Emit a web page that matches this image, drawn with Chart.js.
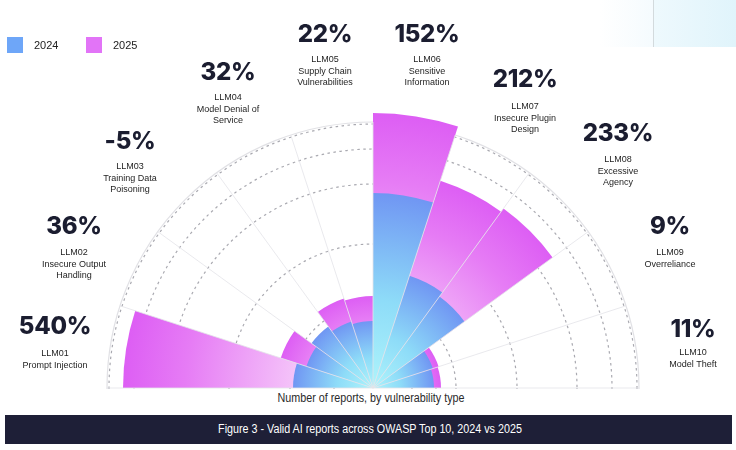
<!DOCTYPE html>
<html>
<head>
<meta charset="utf-8">
<script src="https://cdn.jsdelivr.net/npm/chart.js@4.4.1/dist/chart.umd.min.js"></script>
<style>
  html, body { margin: 0; padding: 0; background: #fff; }
  body { width: 736px; height: 450px; position: relative; overflow: hidden; font-family: "Liberation Sans", Arial, sans-serif; }
  #tint { position: absolute; left: 600px; top: 0; width: 53px; height: 47px; background: linear-gradient(to right, #ffffff, #f5fbfe); }
  #tint2 { position: absolute; left: 653px; top: 0; width: 83px; height: 47px; background: linear-gradient(to right, #eef9fd, #e0f4fb); border-left: 1px solid #d3dadd; }
  #wrap { position: absolute; left: 0; top: 0; width: 736px; height: 389px; overflow: hidden; }
  .leg { position: absolute; top: 37px; width: 16px; height: 16px; }
  .legtxt { position: absolute; top: 38px; font-size: 11px; color: #222; line-height: 14px; }
  .pct { position: absolute; transform: translate(-50%, -50%); font-family: Inter, "Noto Sans", sans-serif; font-weight: 800; font-size: 24px; color: #1b1d30; letter-spacing: -0.3px; white-space: nowrap; }
  .lbl { position: absolute; transform: translateX(-50%); font-size: 9px; line-height: 11.5px; color: #1e1e1e; text-align: center; white-space: nowrap; }
  #axisTitle { position: absolute; left: 371px; top: 398px; transform: translate(-50%, -50%) scaleX(0.86); font-size: 12.5px; color: #2a2a2a; white-space: nowrap; }
  #banner { position: absolute; left: 5px; top: 415px; width: 727px; height: 29px; background: #1e1f37; }
  #banner span { position: absolute; left: 365px; top: 14px; transform: translate(-50%, -50%) scaleX(0.86); color: #fff; font-size: 12.5px; white-space: nowrap; }
</style>
</head>
<body>
<div id="tint"></div>
<div id="tint2"></div>
<div id="wrap"><canvas id="chart" width="736" height="680"></canvas></div>
<div id="labels"></div>
<div id="axisTitle">Number of reports, by vulnerability type</div>
<div id="banner"><span>Figure 3 - Valid AI reports across OWASP Top 10, 2024 vs 2025</span></div>
<script>
(function () {
  'use strict';

  // categories, left (LLM01) to right (LLM10)
  var codes = ['LLM01', 'LLM02', 'LLM03', 'LLM04', 'LLM05', 'LLM06', 'LLM07', 'LLM08', 'LLM09', 'LLM10'];
  var names = [
    ['Prompt Injection'],
    ['Insecure Output', 'Handling'],
    ['Training Data', 'Poisoning'],
    ['Model Denial of', 'Service'],
    ['Supply Chain', 'Vulnerabilities'],
    ['Sensitive', 'Information'],
    ['Insecure Plugin', 'Design'],
    ['Excessive', 'Agency'],
    ['Overreliance'],
    ['Model Theft']
  ];
  var changes = ['540%', '36%', '-5%', '32%', '22%', '152%', '212%', '233%', '9%', '11%'];

  // bar lengths (radial units, outer ring = 266)
  var reports2024 = [80, 70, 76, 70, 67, 195, 118, 113, 63, 61];
  var reports2025 = [250, 97, 72, 94, 92, 275, 218, 222, 69, 68];

  // rings of the radial grid
  var gridRings = [0, 39, 63, 83, 144, 204, 239, 264, 266];
  var outerRing = 266;
  var scaleMax = 290;

  // label placement: [center x, percent y, first label line y]
  var labelPos = [
    [55, 325, 354], [74, 225, 253], [130, 140, 167], [228, 71, 98], [325, 33, 60],
    [427, 33, 60], [525, 78, 107], [618, 132, 160], [670, 225, 253], [693, 328, 353]
  ];

  // legend
  var legendItems = [['2024', '#6ea6f8', 7], ['2025', '#e274f7', 86]];
  var body = document.body;
  legendItems.forEach(function (it) {
    var sq = document.createElement('div');
    sq.className = 'leg'; sq.style.left = it[2] + 'px'; sq.style.background = it[1];
    body.appendChild(sq);
    var t = document.createElement('div');
    t.className = 'legtxt'; t.style.left = (it[2] + 27) + 'px'; t.textContent = it[0];
    body.appendChild(t);
  });

  // category labels around the half circle
  var holder = document.getElementById('labels');
  codes.forEach(function (code, i) {
    var p = labelPos[i];
    var pct = document.createElement('div');
    pct.className = 'pct';
    pct.style.left = p[0] + 'px'; pct.style.top = p[1] + 'px';
    pct.textContent = changes[i];
    holder.appendChild(pct);
    var lbl = document.createElement('div');
    lbl.className = 'lbl';
    lbl.style.left = p[0] + 'px'; lbl.style.top = (p[2] - 6) + 'px';
    lbl.innerHTML = [code].concat(names[i]).join('<br>');
    holder.appendChild(lbl);
  });

  // per-arc radial gradient, centre -> end of the bar
  function arcGradient(stops, fallback) {
    return function (ctx) {
      var chart = ctx.chart;
      var s = chart.scales.r;
      if (!chart.chartArea || !s || s.xCenter === undefined) return fallback;
      var r = Math.max(s.getDistanceFromCenterForValue(ctx.raw), 1);
      var g = chart.ctx.createRadialGradient(s.xCenter, s.yCenter, 0, s.xCenter, s.yCenter, r);
      stops.forEach(function (st) { g.addColorStop(st[0], st[1]); });
      return g;
    };
  }

  var sectorAngle = 180 / codes.length;

  // spokes at every sector border, drawn above the bars
  var spokes = {
    id: 'spokes',
    afterDatasetsDraw: function (chart) {
      var s = chart.scales.r, c = chart.ctx;
      var len = s.getDistanceFromCenterForValue(outerRing);
      c.save();
      c.strokeStyle = 'rgba(228,228,232,0.8)';
      c.lineWidth = 1;
      for (var i = 0; i <= codes.length; i++) {
        var a = Math.PI + i * sectorAngle * Math.PI / 180;
        c.beginPath();
        c.moveTo(s.xCenter, s.yCenter);
        c.lineTo(s.xCenter + len * Math.cos(a), s.yCenter + len * Math.sin(a));
        c.stroke();
      }
      c.restore();
    }
  };

  new Chart(document.getElementById('chart').getContext('2d'), {
    type: 'polarArea',
    data: {
      labels: codes,
      datasets: [
        {
          label: '2024',
          data: reports2024,
          angle: sectorAngle,
          backgroundColor: arcGradient([[0, '#aef4fb'], [0.45, '#8edcf8'], [1, '#7096f3']], '#6ea6f8'),
          borderWidth: 0
        },
        {
          label: '2025',
          data: reports2025,
          angle: sectorAngle,
          backgroundColor: arcGradient([[0, '#fbe8fd'], [0.3, '#f5c6f9'], [0.75, '#e67cf5'], [1, '#dd5ef4']], '#e274f7'),
          borderWidth: 0
        }
      ]
    },
    options: {
      responsive: false,
      animation: false,
      layout: { padding: { left: 83, right: 73, top: 98, bottom: 2 } },
      plugins: { legend: { display: false }, tooltip: { enabled: false } },
      scales: {
        r: {
          min: 0,
          max: scaleMax,
          startAngle: -90,
          z: 1,
          afterBuildTicks: function (scale) {
            scale.ticks = gridRings.map(function (v) { return { value: v }; });
          },
          ticks: { display: false },
          pointLabels: { display: false },
          angleLines: { display: false },
          grid: {
            circular: true,
            lineWidth: 1.2,
            color: function (ctx) {
              return ctx.tick && ctx.tick.value === outerRing ? 'rgba(222,222,226,0.9)' : 'rgba(140,140,150,0.75)';
            }
          },
          border: {
            dash: function (ctx) {
              return ctx.tick && ctx.tick.value === outerRing ? [] : [2.5, 3.5];
            }
          }
        }
      }
    },
    plugins: [spokes]
  });
})();
</script>
</body>
</html>
